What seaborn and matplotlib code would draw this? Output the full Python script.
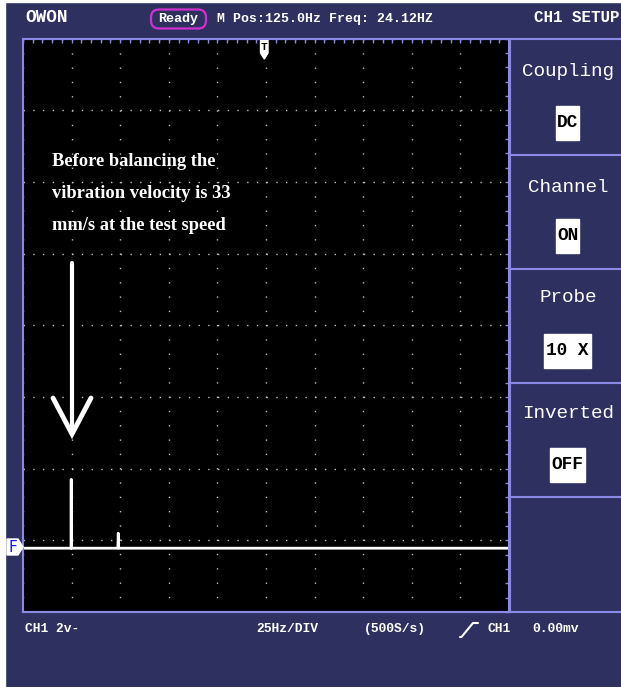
import matplotlib
matplotlib.use("Agg")
import matplotlib.pyplot as plt
import seaborn as sns
import numpy as np
from matplotlib.patches import Rectangle, Polygon, FancyBboxPatch

# spectrum trace (Hz, volts above the baseline)
freq_hz = [0, 24.7, 24.8, 24.9, 48.8, 49.0, 49.2, 250]
amp_v = [0, 0, 1.92, 0, 0, 0.42, 0, 0]

x_div_hz = 25
y_div_v = 2
base_div = 0.89  # baseline sits this many divisions above the bottom

header_info = "M Pos:125.0Hz Freq: 24.12HZ"
menu_labels = ["Coupling", "Channel", "Probe", "Inverted"]
menu_values = ["DC", "ON", "10 X", "OFF"]
footer_labels = ["CH1 2v-", "25Hz/DIV", "(500S/s)", "CH1", "0.00mv"]
note_lines = ["Before balancing the", "vibration velocity is 33", "mm/s at the test speed"]

navy = "#2e3160"
lav = "#8a8ae6"
W, H = 621, 687

sns.set_style("dark")
plt.rcParams["font.family"] = ["Liberation Mono", "DejaVu Sans Mono"]

fig = plt.figure(figsize=(W / 100, H / 100), dpi=100, facecolor=navy)

# main scope screen
L, R, T, B = 23, 509, 38.5, 612
ax = fig.add_axes([L / W, 1 - B / H, (R - L) / W, (B - T) / H])
ax.set_facecolor("black")
sns.lineplot(x=freq_hz, y=amp_v, color="white", lw=2.0, estimator=None, ax=ax)

ylo = -base_div * y_div_v
ax.set_xlim(0, 10 * x_div_hz)
ax.set_ylim(ylo, ylo + 8 * y_div_v)
ax.set_xticks(np.arange(0, 10 * x_div_hz + 1, x_div_hz))
ax.set_xticks(np.arange(0, 10 * x_div_hz + 1, x_div_hz / 5), minor=True)
ax.set_yticks(ylo + np.arange(0, 9) * y_div_v)
ax.set_yticks(ylo + np.arange(0, 41) * y_div_v / 5, minor=True)
ax.tick_params(which="both", direction="in", length=3, width=1, color=lav,
               top=True, right=True, labelbottom=False, labelleft=False)
ax.grid(False)
ax.xaxis.grid(True, which="major", color="#c0c0c0", lw=1, ls=(0, (1, 9.3)))
ax.yaxis.grid(True, which="major", color="#c0c0c0", lw=1, ls=(0, (1, 6)))
for s in ax.spines.values():
    s.set_color(lav)
    s.set_linewidth(1.5)

# overlay in pixel coordinates for the instrument frame
ov = fig.add_axes([0, 0, 1, 1], zorder=10)
ov.set_xlim(0, W)
ov.set_ylim(H, 0)
ov.axis("off")
ov.patch.set_alpha(0)

ov.add_patch(Rectangle((0, 0), 5, H, color="white"))
ov.add_patch(Rectangle((0, 0), W, 2, color="white"))

ov.plot([L, W], [T, T], color=lav, lw=1.5)
ov.plot([L, W], [B, B], color=lav, lw=1.5)
ov.plot([510, 510], [T, B], color=lav, lw=1.5)
for y in [155, 269, 383, 497]:
    ov.plot([510, W], [y, y], color=lav, lw=1.5)

# header
ov.text(25, 18, "OWON", color="white", fontsize=12.8, fontweight="bold", va="center")
ov.add_patch(FancyBboxPatch((151, 9.5), 55, 19, boxstyle="round,pad=0,rounding_size=8",
                            fc="none", ec="#d030d0", lw=1.6))
ov.text(178.5, 19, "Ready", color="white", fontsize=9.6, fontweight="bold",
        ha="center", va="center")
ov.text(217, 19, header_info, color="white", fontsize=9.5, fontweight="bold", va="center")
ov.text(620, 18, "CH1 SETUP", color="white", fontsize=11.4, fontweight="bold",
        ha="right", va="center")

# right menu
label_y = [72, 187, 298, 413]
value_y = [122.5, 236, 350.5, 464.5]
box_w = [23, 23, 47, 35]
for lab, val, ly, vy, bw in zip(menu_labels, menu_values, label_y, value_y, box_w):
    ov.text(568, ly, lab, color="white", fontsize=13.9, ha="center", va="center")
    ov.add_patch(Rectangle((567.5 - bw / 2, vy - 17), bw, 34, color="white"))
    ov.text(567.5, vy, val, color="black", fontsize=12.8, fontweight="bold",
            ha="center", va="center")

# footer
foot_x = [25, 256, 364, 488, 532]
for txt, fx in zip(footer_labels, foot_x):
    ov.text(fx, 629, txt, color="white", fontsize=9.4, fontweight="bold", va="center")
ov.plot([460, 461.5, 473, 478], [637, 637, 623, 623], color="white", lw=1.5)

# F and T markers
ov.add_patch(Polygon([(7, 539), (18, 539), (23, 547), (18, 555), (7, 555)], color="white"))
ov.text(12.5, 547.5, "F", color="#1a1ae0", fontsize=11, ha="center", va="center",
        family="DejaVu Sans")
ov.add_patch(Polygon([(260.5, 40), (268, 40), (268, 53), (264.3, 59), (260.5, 53)],
                     color="white"))
ov.text(264.3, 47, "T", color="black", fontsize=8, fontweight="bold", ha="center",
        va="center")

# annotation and arrow
for i, line in enumerate(note_lines):
    ov.text(52, 162 + i * 31.5, line, color="white", fontsize=13.3, fontweight="bold",
            va="center", family="Liberation Serif")
ov.plot([72, 72], [263, 432], color="white", lw=3, solid_capstyle="round")
ov.plot([53, 72, 91], [398, 434, 398], color="white", lw=3.5,
        solid_capstyle="round", solid_joinstyle="miter")

fig.savefig("out.png", dpi=100, facecolor=navy)
plt.close()
